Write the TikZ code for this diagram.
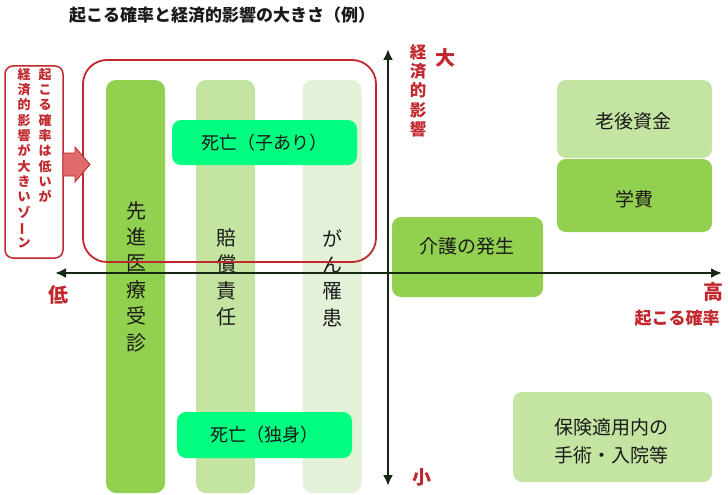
\documentclass[tikz,border=0pt]{standalone}
\usepackage{fontspec}
\usepackage{graphicx}
\newfontfamily\jp{Noto Sans CJK JP}
\usetikzlibrary{arrows.meta}
\definecolor{gmid}{HTML}{92D050}
\definecolor{glight}{HTML}{C4E4A2}
\definecolor{gpale}{HTML}{E3F1D8}
\definecolor{gspring}{HTML}{00FF80}
\definecolor{zred}{HTML}{C0282D}
\definecolor{zredfill}{HTML}{E06B6B}
\definecolor{axisc}{HTML}{142814}
\definecolor{txt}{HTML}{1A1A1A}
\newcommand{\vbar}{\rotatebox[origin=c]{90}{ー}}
\begin{document}
\begin{tikzpicture}[x=1pt,y=-1pt,
  colbar/.style={rounded corners=10pt, inner sep=0pt, minimum width=59pt, minimum height=413pt},
  gbox/.style={rounded corners=9pt, inner sep=0pt},
  coltext/.style={font={\jp\fontsize{20}{26.4}\selectfont}, text=txt, align=center, inner sep=0pt},
  boxtext/.style={font={\jp\fontsize{19}{28}\selectfont}, text=txt, align=center, inner sep=0pt},
  redlab/.style={font={\jp\bfseries\fontsize{19}{22}\selectfont}, text=zred, inner sep=0pt},
  sidetext/.style={font={\jp\bfseries\fontsize{13}{15.3}\selectfont}, text=zred, align=center, inner sep=0pt, anchor=north},
  axisline/.style={draw=axisc, line width=2.6pt, {Latex[length=11pt,width=10pt]}-{Latex[length=11pt,width=10pt]}}
]
\useasboundingbox (0,0) rectangle (728,495);

% title
\node[font={\jp\bfseries\fontsize{17}{20}\selectfont}, text=txt, inner sep=0pt] (title) at (222,15) {起こる確率と経済的影響の大きさ（例）};

% columns
\node[colbar, fill=gmid] (col1) at (135.5,286.5) {};
\node[colbar, fill=glight] (col2) at (225.5,286.5) {};
\node[colbar, fill=gpale] (col3) at (332,286.5) {};
\node[coltext] (col1t) at (136,276.5) {先\\進\\医\\療\\受\\診};
\node[coltext] (col2t) at (226,277.5) {賠\\償\\責\\任};
\node[coltext] (col3t) at (332,278) {が\\ん\\罹\\患};

% boxes
\node[gbox, fill=gspring, minimum width=185pt, minimum height=45pt] (deathkid) at (264.5,142.5) {};
\node[boxtext, font={\jp\fontsize{18}{22}\selectfont}] (deathkidt) at (264.5,142.5) {死亡（子あり）};
\node[gbox, fill=gspring, minimum width=175pt, minimum height=46pt] (deathsingle) at (264.5,435) {};
\node[boxtext, font={\jp\fontsize{18}{22}\selectfont}] (deathsinglet) at (264.5,435) {死亡（独身）};

\node[gbox, fill=gmid, minimum width=151pt, minimum height=80pt] (care) at (467.5,257) {};
\node[boxtext] (caret) at (467,246) {介護の発生};
\node[gbox, fill=glight, minimum width=155pt, minimum height=78pt] (retire) at (634.5,119) {};
\node[boxtext] (retiret) at (633,121) {老後資金};
\node[gbox, fill=gmid, minimum width=155pt, minimum height=73pt] (school) at (634.5,195.5) {};
\node[boxtext] (schoolt) at (634,199) {学費};
\node[gbox, fill=glight, minimum width=199pt, minimum height=90pt] (surg) at (612.5,437) {};
\node[boxtext] (surgt) at (611,441) {保険適用内の\\手術・入院等};

% red zone
\node[draw=zred, line width=1.8pt, rounded corners=24pt, minimum width=293pt, minimum height=202pt, inner sep=0pt] (zone) at (229.5,161) {};
\node[draw=zred, line width=1.5pt, rounded corners=8pt, minimum width=58pt, minimum height=192pt, inner sep=0pt] (side) at (34,162) {};
\node[sidetext] (sideR) at (45,68) {起\\こ\\る\\確\\率\\は\\低\\い\\が};
\node[sidetext] (sideL) at (24,68) {経\\済\\的\\影\\響\\が\\大\\き\\い\\ゾ\\\vbar\\ン};
\draw[draw=zred, fill=zredfill, line width=0.8pt] (63,153) -- (75,153) -- (75,147) -- (90,164.5) -- (75,182) -- (75,176) -- (63,176) -- cycle;

% axes
\coordinate (xl) at (55,273);
\coordinate (xr) at (722,273);
\coordinate (yt) at (388,49);
\coordinate (yb) at (388,486);
\draw[axisline] (xl) -- (xr);
\draw[axisline] (yb) -- (yt);

% axis labels
\node[redlab, font={\jp\bfseries\fontsize{20}{22}\selectfont}] (big) at (445,58) {大};
\node[sidetext, font={\jp\bfseries\fontsize{16.5}{19.3}\selectfont}] (econ) at (418,44) {経\\済\\的\\影\\響};
\node[redlab, font={\jp\bfseries\fontsize{20}{22}\selectfont}] (low) at (58,295) {低};
\node[redlab, font={\jp\bfseries\fontsize{20}{22}\selectfont}] (high) at (713,292) {高};
\node[redlab, font={\jp\bfseries\fontsize{17}{20}\selectfont}] (prob) at (677,318) {起こる確率};
\node[redlab, font={\jp\bfseries\fontsize{19}{22}\selectfont}] (small) at (422,477) {小};
\end{tikzpicture}
\end{document}
